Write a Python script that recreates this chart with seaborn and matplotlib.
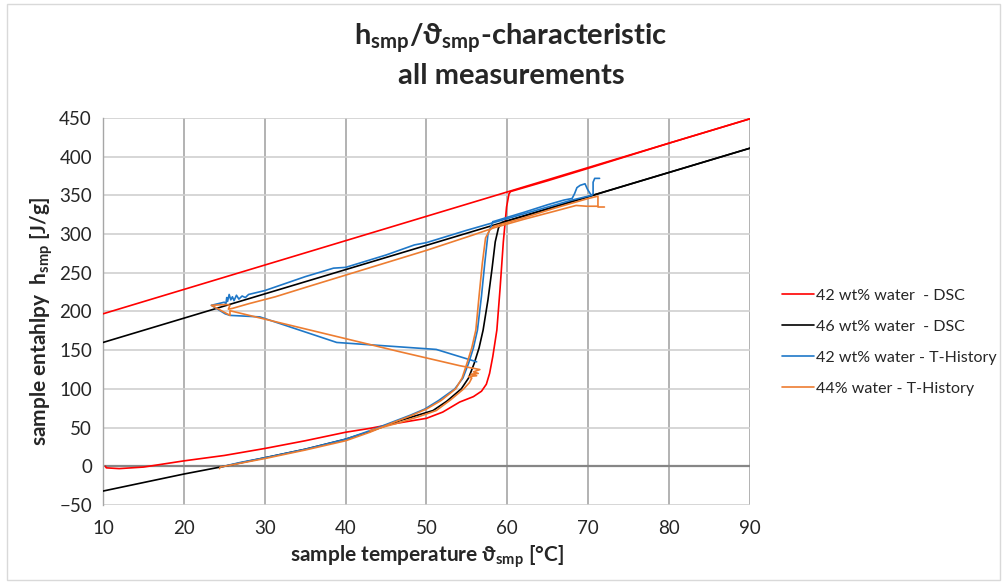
import pandas as pd
import seaborn as sns
import matplotlib.pyplot as plt
from matplotlib.lines import Line2D
from matplotlib.patches import Rectangle

# ---- 42 wt% water - DSC (red)
red_heat_t = [10.3, 10.4, 12, 15, 20, 25, 30, 35, 40, 43, 46, 50, 52, 54.1, 55.8, 56.8, 57.4,
              57.8, 58.2, 58.7, 59.1, 59.5, 59.9, 60.2, 60.4, 65, 70, 80, 90]
red_heat_h = [0, -2, -3, -1, 7, 14, 23, 33, 44, 49, 55, 62, 70, 83, 90, 97, 106,
              120, 142, 176, 230, 290, 335, 352, 355, 369, 385, 417.5, 449]
red_cool_t = [90, 10]
red_cool_h = [449, 197]

# ---- 46 wt% water - DSC (black)
blk_heat_t = [10, 15, 20, 25, 30, 35, 40, 43, 46.7, 50.8, 52.5, 54.3, 55.2, 55.9, 56.5, 57.0,
              57.6, 58.1, 58.5, 58.9, 59.3, 90]
blk_heat_h = [-32, -21, -10, 0, 11, 22, 35, 45, 59, 72, 84, 100, 114, 133, 153, 176,
              215, 255, 290, 308, 315, 411]
blk_cool_t = [90, 10]
blk_cool_h = [411, 160]

# ---- 42 wt% water - T-History (blue)
blu_heat_t = [24.5, 27, 30, 35, 40, 43, 46, 48, 49.8, 51.5, 53.5, 54.5, 55.2, 55.8, 56.3, 56.8,
              57.2, 57.6, 58.2]
blu_heat_h = [-1, 5, 11, 22, 35, 46, 58, 66, 74, 85, 100, 114, 133, 153, 176, 220,
              262, 300, 316]
blu_liq_t = [58.2, 62, 65, 66, 67, 68.0, 68.3, 68.6, 69.0, 69.6, 69.9, 70.2, 70.4, 70.6,
             70.6, 70.8, 71.4]
blu_liq_h = [316, 328, 338, 341, 344, 346, 352, 360, 363, 365, 358, 353, 350, 352,
             367, 372, 372]
blu_cool_t = [70.4, 68, 64, 60, 55, 50, 48.5, 45, 40, 38.5, 35, 30, 28.0, 27.6, 27.2, 26.8,
              26.5, 26.2, 26.0, 25.8, 25.6, 25.4, 25.3, 25.2, 25.0, 23.4, 25.1, 25.7, 29.4,
              38.9, 51.2, 56.2]
blu_cool_h = [350, 344, 332, 320, 305, 289, 286, 273, 257, 256, 245, 227, 222, 218, 220, 216,
              221, 214, 219, 215, 222, 213, 218, 210, 212, 208, 197, 195, 193,
              160, 151, 135]

# ---- 44% water - T-History (orange)
org_heat_t = [24.4, 24.5, 27, 30, 35, 40, 43, 46, 48, 50, 51.8, 53.6, 54.4, 55.0, 55.6, 56.1,
              56.5, 56.9, 57.3, 57.8, 58.3, 62, 66, 70, 71.2, 71.2, 72.0]
org_heat_h = [-3, -1, 4, 10, 21, 33, 44, 57, 65, 74, 85, 100, 114, 133, 153, 176,
              220, 262, 295, 305, 310, 321, 334, 346, 349, 335, 335]
org_cool_t = [71.2, 69.8, 68.5, 66, 62, 58.3, 55.8, 50, 45, 40, 35, 31.3, 28, 26, 25.5,
              25.7, 25.3, 23.4, 25.7, 25.7, 46.7, 54.1, 56.6, 55.8, 56.4, 55.5, 56.2,
              55.2, 55.6, 55.3, 54.6, 53.0, 51.2, 49.0, 46.5, 43.0]
org_cool_h = [336, 336, 337, 330, 319, 308, 299, 279, 263, 247, 231, 219, 210, 204, 203,
              208, 209, 208, 195, 201, 148, 130, 125, 122, 120, 119, 117,
              116, 114, 108, 100, 86, 72, 64, 56, 46]

series = [
    ("42 wt% water  - DSC", "#ff0000", [(red_heat_t, red_heat_h), (red_cool_t, red_cool_h)]),
    ("46 wt% water  - DSC", "#000000", [(blk_heat_t, blk_heat_h), (blk_cool_t, blk_cool_h)]),
    ("42 wt% water - T-History", "#1f78c8", [(blu_heat_t, blu_heat_h), (blu_liq_t, blu_liq_h),
                                             (blu_cool_t, blu_cool_h)]),
    ("44% water - T-History", "#ed7d31", [(org_heat_t, org_heat_h), (org_cool_t, org_cool_h)]),
]

sns.set_style("white")
plt.rcParams["font.family"] = ["Lato", "DejaVu Sans"]
plt.rcParams["mathtext.fontset"] = "custom"
plt.rcParams["mathtext.rm"] = "Lato"
plt.rcParams["mathtext.bf"] = "Lato:bold"

fig = plt.figure(figsize=(10.04, 5.83), dpi=100)
ax = fig.add_axes([0.1026, 0.1338, 0.6444, 0.6638])

for z, (name, color, segs) in enumerate(series):
    for t, h in segs:
        df = pd.DataFrame({"t": t, "h": h})
        sns.lineplot(data=df, x="t", y="h", sort=False, estimator=None,
                     color=color, lw=1.2, ax=ax, zorder=3 + z)

ax.set_xlim(10, 90)
ax.set_ylim(-50, 450)
ax.set_xticks(range(10, 91, 10))
ax.set_yticks(range(-50, 451, 50))
ax.xaxis.grid(True, color="#a6a6a6", lw=1.2)
ax.yaxis.grid(True, color="#d0d0d0", lw=1.2)
ax.set_axisbelow(True)
ax.axhline(0, color="#868686", lw=1.6, zorder=2)
for s in ["top", "right", "bottom"]:
    ax.spines[s].set_visible(False)
ax.spines["left"].set_color("#a6a6a6")
ax.spines["left"].set_linewidth(1.0)
ax.tick_params(axis="y", direction="out", length=5, color="#a6a6a6", labelsize=13.5, pad=3)
ax.tick_params(axis="x", direction="out", length=0, labelsize=13.5, pad=11)
ax.set_xlabel(r"sample temperature ϑ$_{\mathbf{smp}}$ [°C]", fontsize=15,
              fontweight="bold", labelpad=4)
ax.set_ylabel(r"sample entahlpy  h$_{\mathbf{smp}}$ [J/g]", fontsize=15,
              fontweight="bold")
ax.yaxis.set_label_coords(-0.074, 0.475)

fig.text(0.509, 1 - 39 / 583, r"h$_{\mathbf{smp}}$/ϑ$_{\mathbf{smp}}$-characteristic",
         ha="center", va="center", fontsize=21, fontweight="bold")
fig.text(0.509, 1 - 76 / 583, "all measurements",
         ha="center", va="center", fontsize=21, fontweight="bold")

handles = [Line2D([0], [0], color=c, lw=1.2) for _, c, _ in series]
labels = [n for n, _, _ in series]
fig.legend(handles, labels, loc="center left", bbox_to_anchor=(0.765, 0.413),
           frameon=False, fontsize=11.5, handlelength=2.0, handletextpad=0.1,
           labelspacing=1.05)

fig.patches.append(Rectangle((7 / 1004, 3 / 583), 993 / 1004, 576 / 583,
                             transform=fig.transFigure, fill=False,
                             edgecolor="#d9d9d9", lw=1.0))

fig.savefig("out.png", dpi=100)
